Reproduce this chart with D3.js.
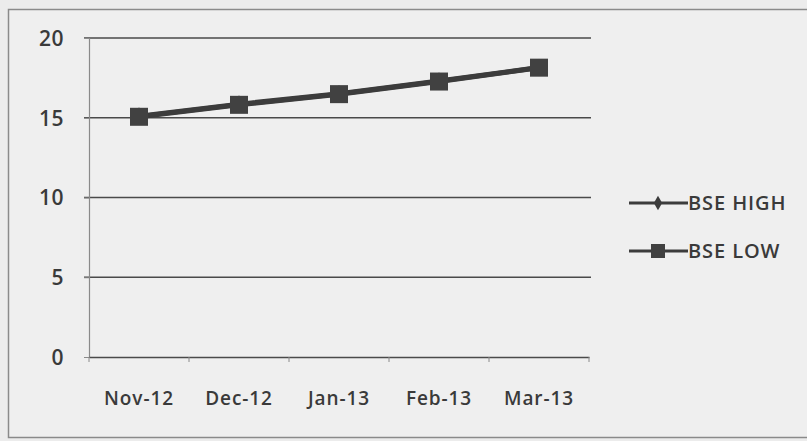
<!DOCTYPE html>
<html><head><meta charset="utf-8">
<script src="https://cdn.jsdelivr.net/npm/d3@7"></script>
<style>
html,body{margin:0;padding:0;background:#ececec;}
svg{display:block;}
text{font-family:"Open Sans",sans-serif;fill:#3a3a3a;font-weight:600;}
</style></head>
<body>
<svg id="c" width="807" height="441"></svg>
<script>
const categories = ["Nov-12","Dec-12","Jan-13","Feb-13","Mar-13"];
const bseHigh = [15.1, 15.85, 16.5, 17.3, 18.15];
const bseLow  = [15.06, 15.81, 16.48, 17.27, 18.14];
const yTicks = [0,5,10,15,20];
const seriesNames = ["BSE HIGH","BSE LOW"];

const svg = d3.select("#c");
svg.append("rect").attr("x",8.5).attr("y",9.5).attr("width",820).attr("height",428)
  .attr("fill","#efefef").attr("stroke","#8a8a8a").attr("stroke-width",1.5);

const x = d3.scaleBand().domain(categories).range([89,589]);
const y = d3.scaleLinear().domain([0,20]).range([357,38]);

// gridlines
svg.append("g").selectAll("line").data(yTicks.filter(d=>d>0)).join("line")
  .attr("x1",84).attr("x2",591).attr("y1",d=>y(d)).attr("y2",d=>y(d))
  .attr("stroke","#4a4a4a").attr("stroke-width",1.4);

// y axis
const ya = svg.append("g").attr("transform","translate(89,0)")
  .call(d3.axisLeft(y).tickValues(yTicks).tickSize(5).tickPadding(20));
ya.select(".domain").attr("stroke","#8a8a8a").attr("stroke-width",1.2);
ya.selectAll(".tick line").attr("stroke","#8a8a8a");
ya.selectAll("text").style("font-size","21px").style("letter-spacing","0.5px").attr("fill","#3a3a3a").attr("dy","0.35em");

// x axis
const xa = svg.append("g").attr("transform","translate(0,357)")
  .call(d3.axisBottom(x).tickSize(0).tickPadding(35));
xa.select(".domain").attr("stroke","#4a4a4a").attr("stroke-width",1.4);
xa.selectAll("text").style("font-size","19px").style("letter-spacing","0.9px").attr("fill","#3a3a3a");
svg.append("g").selectAll("line").data(d3.range(categories.length+1)).join("line")
  .attr("x1",i=>89+i*x.step()).attr("x2",i=>89+i*x.step())
  .attr("y1",357).attr("y2",362).attr("stroke","#8a8a8a");

const cx = d => x(d)+x.bandwidth()/2;
const line = d3.line().x((d,i)=>cx(categories[i])).y(d=>y(d));

// BSE HIGH
svg.append("path").datum(bseHigh).attr("d",line).attr("fill","none")
  .attr("stroke","#3c3c3c").attr("stroke-width",5);
svg.append("g").selectAll("path").data(bseHigh).join("path")
  .attr("d",d3.symbol(d3.symbolDiamond,90))
  .attr("transform",(d,i)=>`translate(${cx(categories[i])},${y(d)})`)
  .attr("fill","#3c3c3c");
// BSE LOW
svg.append("path").datum(bseLow).attr("d",line).attr("fill","none")
  .attr("stroke","#3c3c3c").attr("stroke-width",5);
svg.append("g").selectAll("rect").data(bseLow).join("rect")
  .attr("x",(d,i)=>cx(categories[i])-9).attr("y",d=>y(d)-9)
  .attr("width",18).attr("height",18).attr("fill","#414141");

// legend
const leg = svg.append("g");
const ly = [203, 251];
seriesNames.forEach((n,i)=>{
  leg.append("line").attr("x1",629).attr("x2",688).attr("y1",ly[i]).attr("y2",ly[i])
    .attr("stroke","#3c3c3c").attr("stroke-width",3);
  if(i===0){
    leg.append("path").attr("d",d3.symbol(d3.symbolDiamond,60))
      .attr("transform",`translate(658,${ly[i]})`).attr("fill","#3c3c3c");
  } else {
    leg.append("rect").attr("x",651).attr("y",ly[i]-7).attr("width",14).attr("height",14).attr("fill","#414141");
  }
  leg.append("text").attr("x",688).attr("y",ly[i]).attr("dy","0.36em")
    .style("font-size","20px").style("letter-spacing","0.9px").text(n);
});
</script>
</body></html>
